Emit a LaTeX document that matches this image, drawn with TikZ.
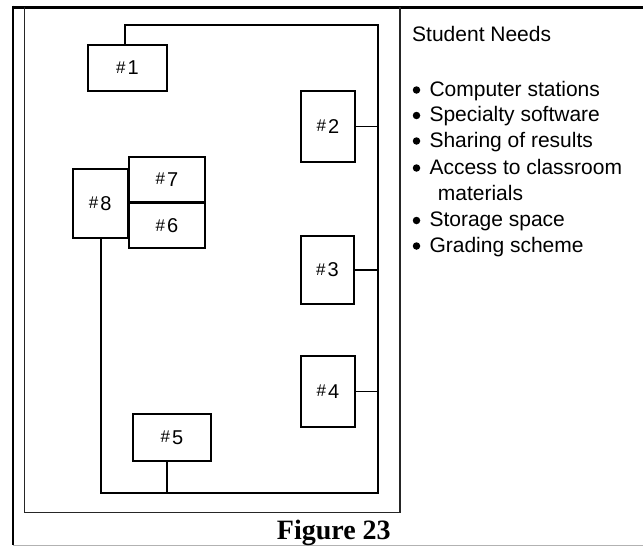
\documentclass[tikz,border=0pt]{standalone}
\usepackage{fontspec}
\setmainfont{Liberation Sans}
\newfontfamily\figfont{Liberation Serif}
\newcommand\boxhash{{\fontsize{17}{17}\selectfont\raisebox{1.5pt}{\#}}\kern2pt}
\begin{document}
\begin{tikzpicture}[x=1pt,y=-1pt,
  roombox/.style={draw=black, line width=1.2pt, inner sep=0pt,
    font=\fontsize{20}{20}\selectfont},
  wire/.style={draw=black, line width=1.2pt},
  itemtext/.style={inner sep=0pt, anchor=base west, font=\fontsize{21}{21}\selectfont},
  dotmark/.style={circle, fill=black, inner sep=0pt, minimum size=7.5pt}]
\useasboundingbox (0,0) rectangle (643,546);
% outer frame
\draw[black, line width=1.5pt] (13,5.5) -- (13,545);
\draw[black!30, line width=1pt] (13,545) -- (643,545);
\draw[black, line width=3pt] (12.25,7) -- (643,7);
% room outline
\draw[black!85, line width=1.3pt] (24.5,7) -- (24.5,512.5) -- (400,512.5) -- (400,7);
% rooms
\node[roombox, minimum width=79pt, minimum height=46pt] (b1) at (127.5,68) {\boxhash 1};
\node[roombox, minimum width=54pt, minimum height=71pt] (b2) at (328,126.5) {\boxhash 2};
\node[roombox, minimum width=53pt, minimum height=68pt] (b3) at (327.5,270) {\boxhash 3};
\node[roombox, minimum width=54pt, minimum height=71pt] (b4) at (328,391.5) {\boxhash 4};
\node[roombox, minimum width=78pt, minimum height=47pt] (b5) at (172,437.5) {\boxhash 5};
\node[roombox, minimum width=76pt, minimum height=44.5pt] (b6) at (167,225.75) {\boxhash 6};
\node[roombox, minimum width=76pt, minimum height=45pt] (b7) at (167,179.5) {\boxhash 7};
\node[roombox, minimum width=54.5pt, minimum height=69pt] (b8) at (100.25,203.5) {\boxhash 8};
% network wiring
\coordinate (tl) at (125,25);
\coordinate (tr) at (378,25);
\coordinate (br) at (378,493);
\coordinate (bl) at (101,493);
\coordinate (m5) at (167,493);
\draw[wire] (tl |- b1.north) -- (tl) -- (tr) -- (br) -- (bl) -- (bl |- b8.south);
\draw[wire] (b2.east) -- (b2.east -| tr);
\draw[wire] (b3.east) -- (b3.east -| tr);
\draw[wire] (b4.east) -- (b4.east -| tr);
\draw[wire] (m5 |- b5.south) -- (m5);
% list
\node[itemtext] (head) at (412,41.5) {Student Needs};
\node[dotmark] (d1) at (416.5,90) {};
\node[itemtext] (t1) at (429.3,96) {Computer stations};
\node[dotmark] (d2) at (416.5,115.5) {};
\node[itemtext] (t2) at (429.3,121.5) {Specialty software};
\node[dotmark] (d3) at (416.5,141) {};
\node[itemtext] (t3) at (429.3,147) {Sharing of results};
\node[dotmark] (d4) at (416.5,168) {};
\node[itemtext] (t4) at (429.3,174) {Access to classroom};
\node[itemtext] (t4b) at (437.7,200.5) {materials};
\node[dotmark] (d5) at (416.5,220.5) {};
\node[itemtext] (t5) at (429.3,226.5) {Storage space};
\node[dotmark] (d6) at (416.5,246) {};
\node[itemtext] (t6) at (429.3,252) {Grading scheme};
% caption
\node[inner sep=0pt, anchor=base west, font=\figfont\bfseries\fontsize{28}{28}\selectfont] (fig) at (276.7,539) {Figure 23};
\end{tikzpicture}
\end{document}
